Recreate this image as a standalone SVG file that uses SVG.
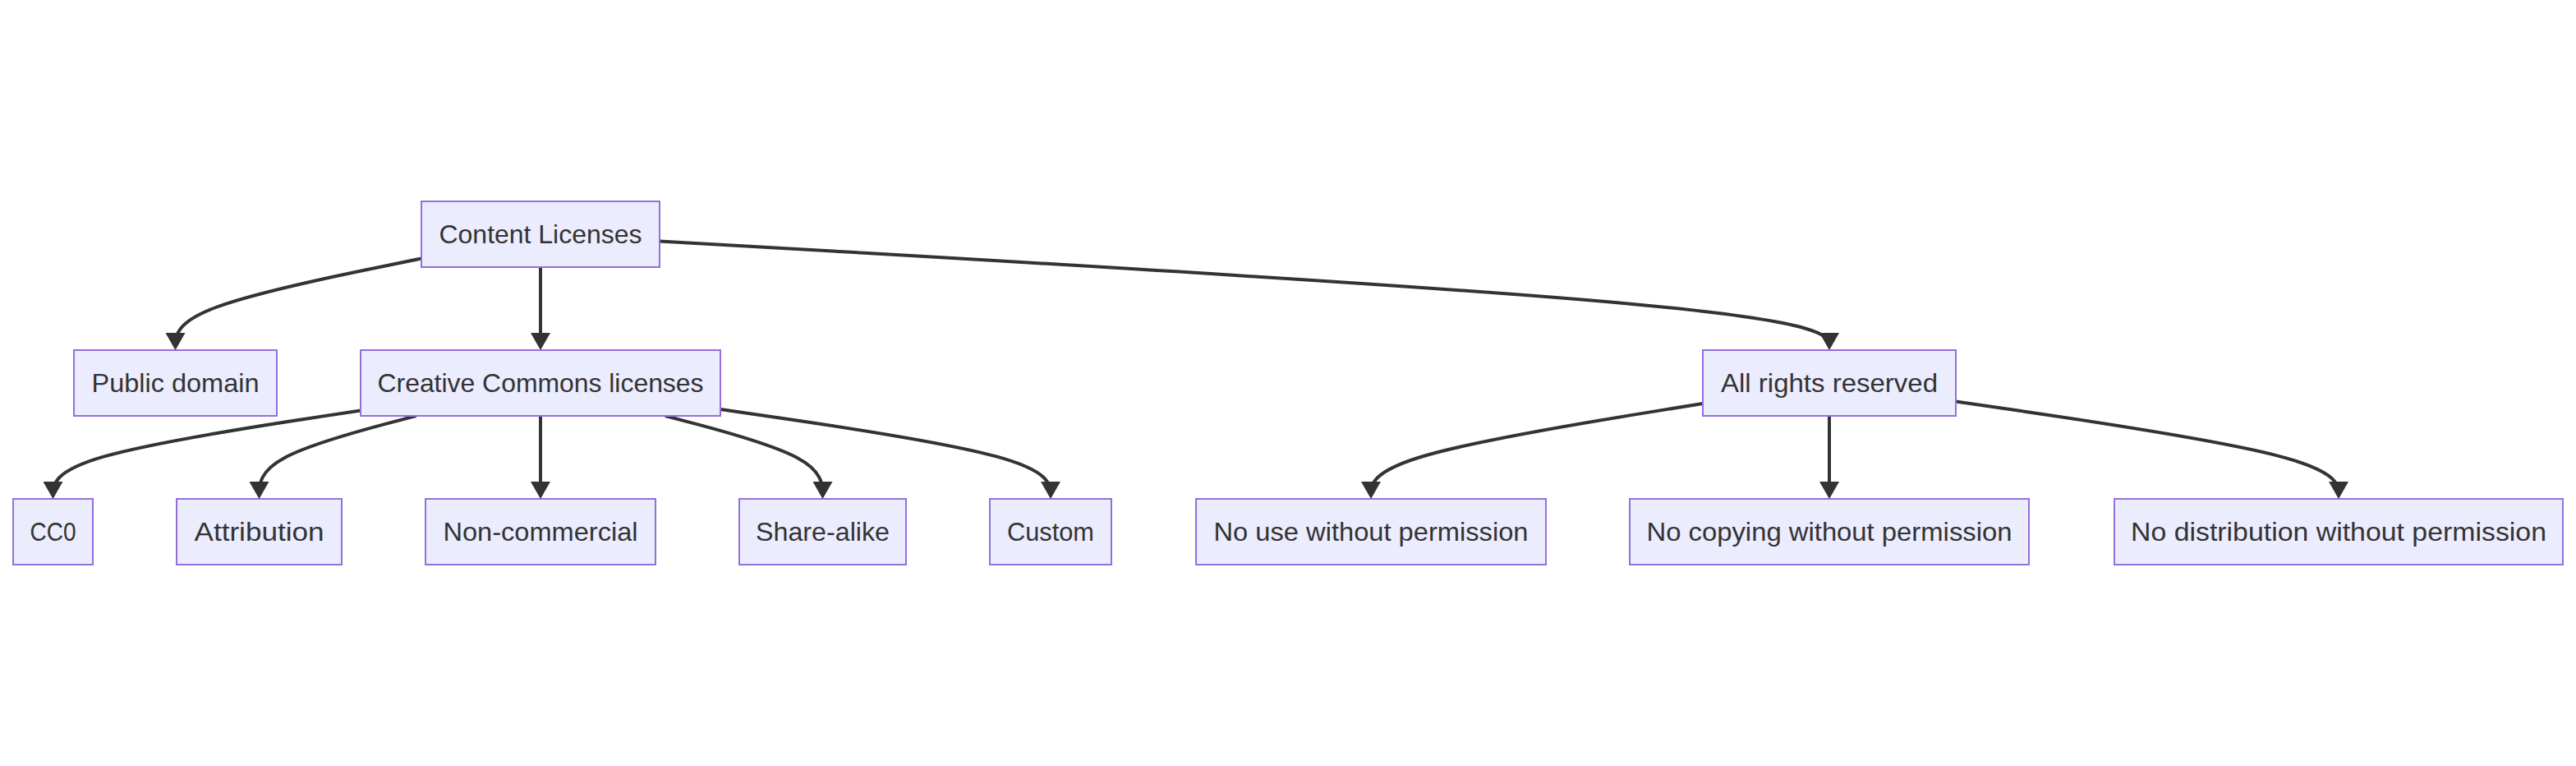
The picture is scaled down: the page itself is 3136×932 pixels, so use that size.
<svg xmlns="http://www.w3.org/2000/svg" width="3136" height="932" viewBox="0 0 3136 932">
<style>
.node rect{fill:#ECECFF;stroke:#9370DB;stroke-width:2}
.node text{font-family:"Liberation Sans",Arial,sans-serif;font-size:32px;fill:#333333;text-anchor:middle}
.edge{fill:none;stroke:#333333;stroke-width:4}
</style>
<defs>
<marker id="arrow" viewBox="0 0 10 10" refX="7.6" refY="5" markerUnits="userSpaceOnUse" markerWidth="21" markerHeight="24" preserveAspectRatio="none" orient="auto">
<path d="M0,0 L10,5 L0,10 z" fill="#333333"/>
</marker>
</defs>
<rect width="3136" height="932" fill="#ffffff"/>
<g id="connectors">
<path class="edge" marker-end="url(#arrow)" d="M513,314.5 L463.1,324.7 C413.2,334.8 313.3,355.2 263.4,373.75 C213.5,392.3 213.5,409.2 213.5,421"/>
<path class="edge" marker-end="url(#arrow)" d="M658,325 L658,421"/>
<path class="edge" marker-end="url(#arrow)" d="M803,293.4 L1040.3,307.1 C1277.7,320.8 1752.3,348.1 1989.7,370.2 C2227,392.3 2227,409.2 2227,421"/>
<path class="edge" marker-end="url(#arrow)" d="M439,499.4 L376.6,508.9 C314.2,518.4 189.3,537.5 126.9,555.4 C64.5,573.3 64.5,590.2 64.5,602"/>
<path class="edge" marker-end="url(#arrow)" d="M506.6,506 L474.8,514.4 C442.9,522.8 379.2,539.7 347.4,556.5 C315.5,573.3 315.5,590.2 315.5,602"/>
<path class="edge" marker-end="url(#arrow)" d="M658,506 L658,602"/>
<path class="edge" marker-end="url(#arrow)" d="M809.8,506 L841.75,514.4 C873.7,522.8 937.6,539.7 969.55,556.5 C1001.5,573.3 1001.5,590.2 1001.5,602"/>
<path class="edge" marker-end="url(#arrow)" d="M877,497.9 L944,507.7 C1011,517.4 1145,537 1212,555.15 C1279,573.3 1279,590.2 1279,602"/>
<path class="edge" marker-end="url(#arrow)" d="M2073,491 L2005.7,501.9 C1938.3,512.8 1803.7,534.7 1736.3,554 C1669,573.3 1669,590.2 1669,602"/>
<path class="edge" marker-end="url(#arrow)" d="M2227,506 L2227,602"/>
<path class="edge" marker-end="url(#arrow)" d="M2381,488.5 L2458.7,499.8 C2536.3,511.2 2691.7,533.8 2769.3,553.6 C2847,573.3 2847,590.2 2847,602"/>
</g>
<g id="content-licenses" class="node"><rect x="513" y="245" width="290" height="80"/><text x="658" y="296" textLength="247" lengthAdjust="spacingAndGlyphs">Content Licenses</text></g>
<g id="public-domain" class="node"><rect x="90" y="426" width="247" height="80"/><text x="213.5" y="477" textLength="204" lengthAdjust="spacingAndGlyphs">Public domain</text></g>
<g id="creative-commons" class="node"><rect x="439" y="426" width="438" height="80"/><text x="658" y="477" textLength="397" lengthAdjust="spacingAndGlyphs">Creative Commons licenses</text></g>
<g id="all-rights-reserved" class="node"><rect x="2073" y="426" width="308" height="80"/><text x="2227" y="477" textLength="264" lengthAdjust="spacingAndGlyphs">All rights reserved</text></g>
<g id="cc0" class="node"><rect x="16" y="607" width="97" height="80"/><text x="64.5" y="658" textLength="56" lengthAdjust="spacingAndGlyphs">CC0</text></g>
<g id="attribution" class="node"><rect x="215" y="607" width="201" height="80"/><text x="315.5" y="658" textLength="158" lengthAdjust="spacingAndGlyphs">Attribution</text></g>
<g id="non-commercial" class="node"><rect x="518" y="607" width="280" height="80"/><text x="658" y="658" textLength="237" lengthAdjust="spacingAndGlyphs">Non-commercial</text></g>
<g id="share-alike" class="node"><rect x="900" y="607" width="203" height="80"/><text x="1001.5" y="658" textLength="163" lengthAdjust="spacingAndGlyphs">Share-alike</text></g>
<g id="custom" class="node"><rect x="1205" y="607" width="148" height="80"/><text x="1279" y="658" textLength="106" lengthAdjust="spacingAndGlyphs">Custom</text></g>
<g id="no-use" class="node"><rect x="1456" y="607" width="426" height="80"/><text x="1669" y="658" textLength="383" lengthAdjust="spacingAndGlyphs">No use without permission</text></g>
<g id="no-copying" class="node"><rect x="1984" y="607" width="486" height="80"/><text x="2227" y="658" textLength="445" lengthAdjust="spacingAndGlyphs">No copying without permission</text></g>
<g id="no-distribution" class="node"><rect x="2574" y="607" width="546" height="80"/><text x="2847" y="658" textLength="506" lengthAdjust="spacingAndGlyphs">No distribution without permission</text></g>
</svg>
